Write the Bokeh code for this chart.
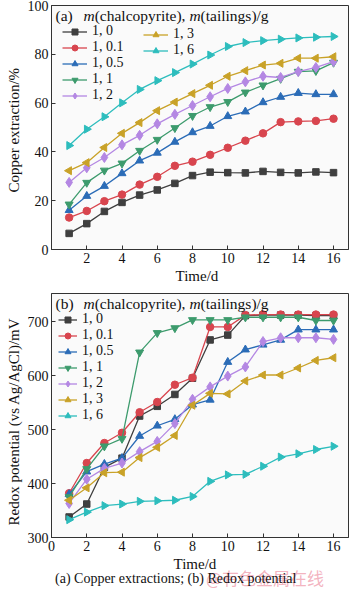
import math
from bokeh.plotting import figure
from bokeh.models import Legend, LegendItem, Label, Range1d, FixedTicker, Title, Div
from bokeh.layouts import column
from bokeh.embed import file_html
from bokeh.resources import INLINE

days = list(range(1, 17))
series_labels = ["1, 0", "1, 0.1", "1, 0.5", "1, 1", "1, 2", "1, 3", "1, 6"]

# (a) Copper extraction, %
cu_1_0 = [6.6, 10.6, 15.6, 19.3, 22.3, 24.4, 27.1, 30.3, 31.7, 31.5, 31.4, 32.0, 31.6, 31.4, 31.8, 31.5]
cu_1_01 = [13.1, 15.8, 19.8, 22.5, 26.6, 29.8, 34.3, 36.0, 38.8, 41.7, 44.6, 47.6, 52.2, 52.5, 52.7, 53.6]
cu_1_05 = [16.1, 21.9, 26.0, 31.2, 36.4, 39.6, 44.1, 48.0, 50.6, 54.6, 56.5, 60.3, 62.5, 64.1, 63.6, 63.6]
cu_1_1 = [18.5, 27.4, 32.4, 35.3, 40.5, 45.0, 49.8, 54.8, 58.4, 60.5, 64.4, 67.3, 70.0, 72.9, 73.2, 76.6]
cu_1_2 = [27.5, 33.5, 37.7, 42.9, 46.8, 51.5, 55.4, 59.0, 62.6, 66.0, 68.7, 71.0, 70.5, 72.9, 74.6, 77.0]
cu_1_3 = [32.3, 35.6, 41.8, 47.6, 52.0, 56.9, 60.4, 63.9, 67.3, 71.0, 73.3, 75.6, 76.3, 78.4, 78.4, 79.0]
cu_1_6 = [42.6, 49.3, 54.4, 60.1, 65.6, 69.2, 72.5, 76.0, 79.7, 83.2, 84.8, 85.6, 86.2, 86.7, 87.0, 87.3]

# (b) Redox potential, mV
eh_1_0 = [338, 362, 430, 447, 525, 543, 565, 595, 666, 675, 711, 712, 712, 712, 711, 711]
eh_1_01 = [382, 438, 475, 494, 532, 551, 583, 596, 690, 690, 712, 713, 713, 713, 713, 713]
eh_1_05 = [380, 422, 436, 447, 488, 507, 519, 546, 555, 625, 648, 657, 666, 685, 685, 685]
eh_1_1 = [375, 427, 469, 483, 643, 679, 688, 703, 703, 703, 708, 708, 708, 708, 702, 702]
eh_1_2 = [363, 408, 428, 438, 459, 478, 511, 556, 579, 599, 616, 663, 670, 670, 670, 667]
eh_1_3 = [369, 392, 420, 421, 448, 467, 489, 545, 567, 566, 590, 601, 601, 614, 628, 633]
eh_1_6 = [333, 347, 359, 362, 367, 368, 369, 376, 404, 416, 417, 432, 449, 455, 463, 469]

x_ticks_a = [2, 4, 6, 8, 10, 12, 14, 16]
x_ticks_b = [0, 2, 4, 6, 8, 10, 12, 14, 16]
y_ticks_a = [0, 20, 40, 60, 80, 100]
y_ticks_b = [300, 400, 500, 600, 700]

colors = ["#3f3f3f", "#d8454e", "#2b6cb7", "#3d9b6d", "#b487e3", "#c9a228", "#2dbdbd"]
markers = ["square", "circle", "triangle", "inverted_triangle", "diamond", "triangle", "triangle"]
angles = [0, 0, 0, 0, 0, math.pi / 2, -math.pi / 2]
sizes = [6.5, 7.5, 8, 8, 10, 8, 8]

FONT = "Liberation Serif"
TXT = "#111111"


def side_title(text, size, standoff, offset):
    return Title(text=text, align="left", offset=offset, text_font=FONT, text_font_size=size,
                 text_font_style="normal", text_color=TXT, standoff=standoff)


def make_fig(height, top_border, yr, xt, yt, xlabel, xoff, ylabel, yoff):
    p = figure(width=350, height=height, output_backend="svg", toolbar_location=None,
               x_range=Range1d(0, 16.85), y_range=Range1d(*yr),
               min_border_left=51, min_border_right=2, min_border_top=top_border,
               min_border_bottom=0)
    p.background_fill_color = "#fafafa"
    p.border_fill_color = "white"
    p.outline_line_color = "#333333"
    p.outline_line_width = 1
    p.grid.visible = False
    p.xaxis.ticker = FixedTicker(ticks=xt)
    p.yaxis.ticker = FixedTicker(ticks=yt)
    for axs in (p.xaxis, p.yaxis):
        axs.major_tick_in = 4
        axs.major_tick_out = 0
        axs.minor_tick_line_color = None
        axs.axis_line_color = "#333333"
        axs.major_tick_line_color = "#333333"
        axs.major_label_text_font = FONT
        axs.major_label_text_font_size = "14px"
        axs.major_label_text_color = TXT
        axs.major_label_standoff = 3
    p.add_layout(side_title(xlabel, "15px", 0, xoff), "below")
    p.add_layout(side_title(ylabel, "15px", 5, yoff), "left")
    return p


def draw_series(p, data_list):
    items = []
    for lab, ys, c, m, a, s in zip(series_labels, data_list, colors, markers, angles, sizes):
        ln = p.line(days, ys, line_color=c, line_width=1.3)
        sc = p.scatter(days, ys, marker=m, size=s, angle=a, fill_color=c, line_color=c)
        items.append(LegendItem(label=lab, renderers=[ln, sc]))
    return items


def make_legend(items, loc, gw):
    return Legend(items=items, location=loc, glyph_width=gw, glyph_height=15, label_height=15,
                  spacing=0, padding=0, margin=0, border_line_color=None,
                  background_fill_alpha=0, label_text_font=FONT, label_text_font_size="14px",
                  label_standoff=5, label_text_color=TXT)


def legend_title(p, tag, y):
    parts = [(4, tag, "normal"), (32, "m", "italic"), (43.2, "(chalcopyrite), ", "normal"),
             (137.9, "m", "italic"), (149.1, "(tailings)/g", "normal")]
    for xx, t, st in parts:
        p.add_layout(Label(x=xx, y=y, x_units="screen", y_units="data", text=t,
                           text_font=FONT, text_font_size="15.5px", text_font_style=st,
                           text_baseline="middle", text_color=TXT))


# ---- (a)
p1 = make_fig(283, 5, (0, 100), x_ticks_a, y_ticks_a, "Time/d", 124, "Copper extraction/%", 57)
items1 = draw_series(p1, [cu_1_0, cu_1_01, cu_1_05, cu_1_1, cu_1_2, cu_1_3, cu_1_6])
p1.add_layout(make_legend(items1[:5], (11, 146), 25))
p1.add_layout(make_legend(items1[5:], (92, 191), 25))
legend_title(p1, "(a)", 95.8)

# ---- (b)
p2 = make_fig(288, 10, (300, 752), x_ticks_b, y_ticks_b, "Time/d", 122,
              "Redox potential (vs Ag/AgCl)/mV", 12)
items2 = draw_series(p2, [eh_1_0, eh_1_01, eh_1_05, eh_1_1, eh_1_2, eh_1_3, eh_1_6])
p2.add_layout(make_legend(items2, (7, 114), 19))
legend_title(p2, "(b)", 733)

# ---- caption strip with the source watermark
caption = "(a) Copper extractions; (b) Redox potential"
watermark = "@有色金属在线"
html = (
    '<div style="position:relative;width:350px;height:19px;overflow:visible;">'
    '<span style="position:absolute;left:206px;top:-3px;white-space:nowrap;'
    "font-family:'Noto Sans CJK SC';font-size:17px;line-height:20px;"
    'color:rgba(240,160,175,0.8);">' + watermark + '</span>'
    '<span style="position:absolute;left:55px;top:0px;white-space:nowrap;'
    "font-family:'Liberation Serif';font-size:14px;line-height:16px;color:#111111;\">"
    + caption + '</span></div>'
)
cap = Div(text=html, width=350, height=19, margin=(0, 0, 0, 0))

layout = column(p1, p2, cap, spacing=0)
open("out.html", "w").write(file_html(layout, INLINE))
